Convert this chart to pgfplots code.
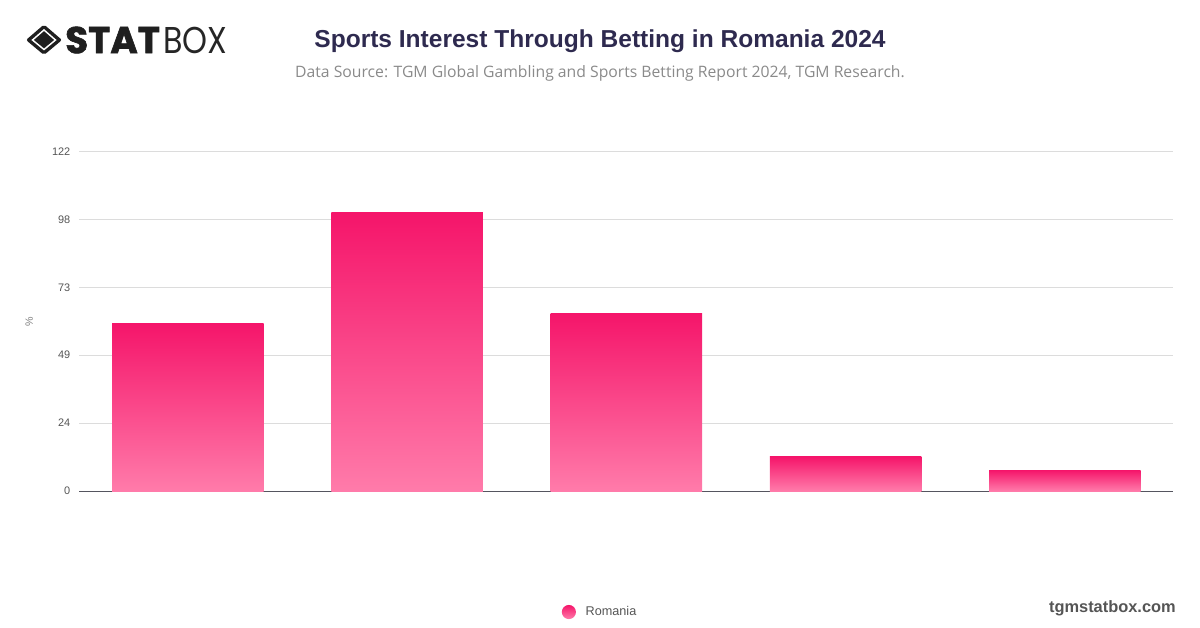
\documentclass[border=0pt]{standalone}
\usepackage{pgfplots}
\usepackage{fontspec}
\pgfplotsset{compat=1.18}
\setmainfont{Liberation Sans}
\newfontfamily\titlefont{Liberation Sans}
\newfontfamily\subfont{Open Sans}
\newfontfamily\logofont{Poppins}
\newfontfamily\logoheavy[BoldFeatures={FakeBold=1.6}]{Poppins}
\definecolor{ttl}{HTML}{2E2A4F}
\definecolor{subt}{HTML}{8A8A8A}
\definecolor{barT}{HTML}{F5156A}
\definecolor{barB}{HTML}{FF7BAA}
\definecolor{gridc}{HTML}{DCDCDC}
\definecolor{axc}{HTML}{55555F}
\definecolor{tickc}{HTML}{555555}
\begin{document}
\begin{tikzpicture}
\begin{scope}[x=0.75pt,y=-0.75pt]
\path[use as bounding box] (0,0) rectangle (1200,628);
% logo
\fill[black!88,rounded corners=1.5pt] (44,24.5) -- (62,40) -- (44,55) -- (26,40) -- cycle;
\draw[white,line width=1.1pt] (44,30) -- (55.5,40) -- (44,49.5) -- (32.5,40) -- cycle;
\node[anchor=west,inner sep=0pt,text=black!88,font=\logoheavy\bfseries\fontsize{28}{28}\selectfont] at (65,40) {STAT};
\node[anchor=west,inner sep=0pt,text=black!85,xscale=0.85,font=\logofont\fontsize{28}{28}\selectfont] at (163,40) {BOX};
% titles
\node[inner sep=0pt,text=ttl,font=\titlefont\bfseries\fontsize{18.4}{20}\selectfont] at (600,41) {Sports Interest Through Betting in Romania 2024};
\node[inner sep=0pt,text=subt,font=\subfont\fontsize{11.8}{12}\selectfont] at (600,73) {Data Source: TGM Global Gambling and Sports Betting Report 2024, TGM Research.};
\node[anchor=east,inner sep=0pt,text=tickc,font=\titlefont\bfseries\fontsize{12.3}{12}\selectfont] at (1176,608) {tgmstatbox.com};
\end{scope}
\begin{axis}[
  at={(59.25pt,-368.25pt)}, anchor=south west,
  scale only axis, width=820.5pt, height=254.6pt,
  xmin=-0.497, xmax=4.493, ymin=0, ymax=122,
  axis x line=bottom, axis y line=left,
  x axis line style={draw=axc,line width=0.7pt,-},
  y axis line style={draw=none},
  xtick=\empty,
  ytick={0,24.4,48.8,73.2,97.6,122},
  yticklabels={0,24,49,73,98,122},
  ymajorgrids, major grid style={gridc,line width=0.75pt},
  major tick length=0pt,
  tick label style={font=\fontsize{8.2}{9}\selectfont,text=tickc},
  yticklabel style={xshift=-3pt},
  ylabel={\%},
  ylabel style={font=\fontsize{8}{9}\selectfont,text=gray,yshift=7.5pt},
  ybar, bar width=113.6pt, bar shift=0pt,
  clip=false,
  legend style={draw=none,fill=none,at={(0.4766,-0.3565)},anchor=center,font=\fontsize{9.5}{10}\selectfont,text=tickc,inner sep=0pt,legend cell align=left},
  legend image code/.code={\shade[top color=barT,bottom color=barB] (0pt,0cm) circle (5.3pt);},
]
\addplot[draw=none,shade,top color=barT,bottom color=barB] coordinates {(0,60.3)};
\addlegendentry{\hspace{5.25pt}Romania}
\addplot[forget plot,draw=none,shade,top color=barT,bottom color=barB] coordinates {(1,100.1)};
\addplot[forget plot,draw=none,shade,top color=barT,bottom color=barB] coordinates {(2,63.9)};
\addplot[forget plot,draw=none,shade,top color=barT,bottom color=barB] coordinates {(3,12.4)};
\addplot[forget plot,draw=none,shade,top color=barT,bottom color=barB] coordinates {(4,7.5)};
\end{axis}
\end{tikzpicture}
\end{document}
